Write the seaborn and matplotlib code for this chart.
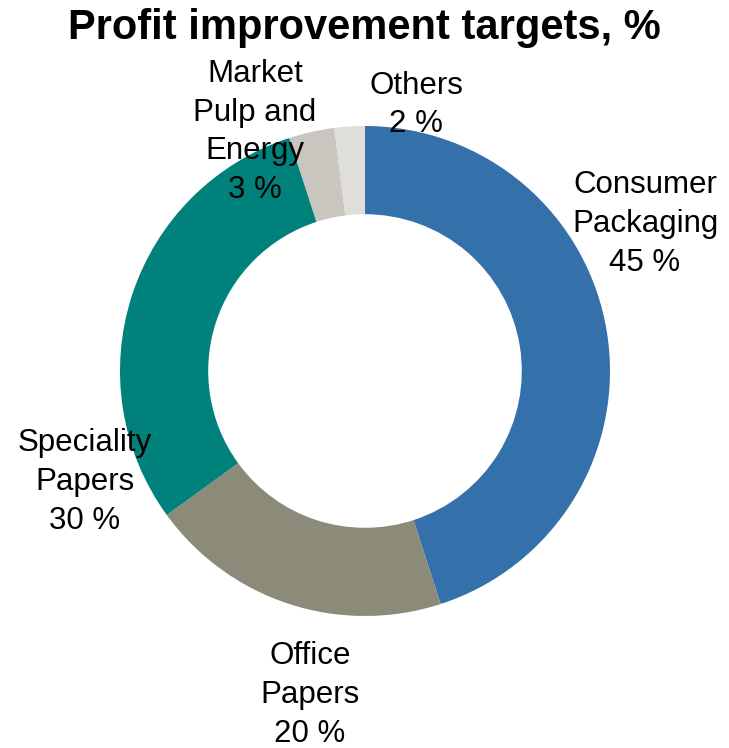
import matplotlib
matplotlib.use("Agg")
import matplotlib.pyplot as plt
import seaborn as sns

# segment data, clockwise from 12 o'clock
segments = ["Consumer\nPackaging", "Office\nPapers", "Speciality\nPapers",
            "Market\nPulp and\nEnergy", "Others"]
shares = [45, 20, 30, 3, 2]
colors = ["#3470AA", "#8C8A78", "#00817C", "#C8C6BE", "#E0DED8"]
# label anchor points (data units, radius 1 = outer ring)
label_xy = [(1.143, 0.600), (-0.224, -1.322), (-1.143, -0.453),
            (-0.449, 0.976), (0.208, 1.086)]

sns.set_theme(style="white")
plt.rcParams["font.family"] = ["Liberation Sans", "DejaVu Sans"]
plt.rcParams["text.color"] = "black"

fig = plt.figure(figsize=(7.29, 7.48), dpi=100)
ax = fig.add_axes([0, 0, 1, 1])

ax.pie(shares, colors=colors, startangle=90, counterclock=False,
       radius=1.0, wedgeprops=dict(width=0.36, linewidth=0))

for name, val, (x, y) in zip(segments, shares, label_xy):
    ax.text(x, y, f"{name}\n{val} %", ha="center", va="center",
            fontsize=22.5, color="black", linespacing=1.38)

ax.set_xlim(-365 / 245, (729 - 365) / 245)
ax.set_ylim(-(748 - 371) / 245, 371 / 245)
ax.set_aspect("equal")
ax.axis("off")

fig.text(0.5, 1 - 28 / 748, "Profit improvement targets, %", ha="center",
         va="center", fontsize=30, fontweight="bold", color="black",
         family=["Liberation Sans Narrow", "Liberation Sans", "DejaVu Sans"])

fig.savefig("out.png", dpi=100)
